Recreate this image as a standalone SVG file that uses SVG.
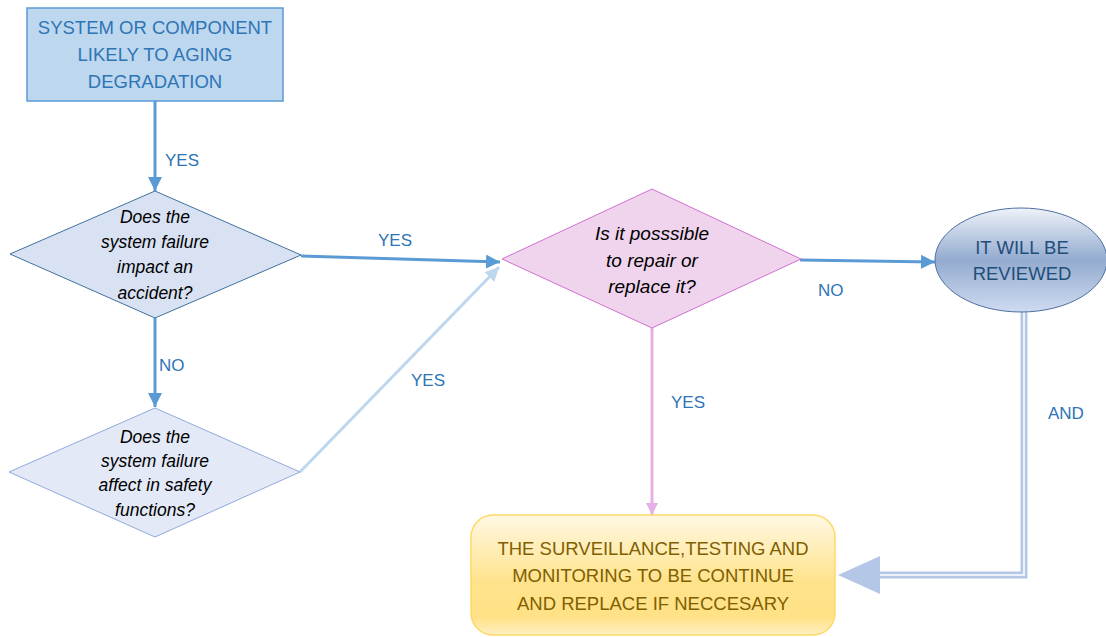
<svg xmlns="http://www.w3.org/2000/svg" width="1106" height="637" viewBox="0 0 1106 637">
<style>
.lbl{font-family:"Liberation Sans",Arial,sans-serif;font-size:17px;fill:#2E75B6}
.q{font-family:"Liberation Sans",Arial,sans-serif;font-style:italic;font-size:17.5px;fill:#000;text-anchor:middle}
.cap{font-family:"Liberation Sans",Arial,sans-serif;font-size:18.5px;text-anchor:middle}
.main{fill:none;stroke:#5B9BD5;stroke-width:3}
</style>
<defs>
<marker id="ah" markerUnits="userSpaceOnUse" viewBox="0 0 14 14" refX="14" refY="7" markerWidth="14" markerHeight="14" orient="auto">
<path d="M0,0 L14,7 L0,14 Z" fill="#5B9BD5"/>
</marker>
<marker id="ahl" markerUnits="userSpaceOnUse" viewBox="0 0 14 14" refX="14" refY="7" markerWidth="14" markerHeight="14" orient="auto">
<path d="M0,0 L14,7 L0,14 Z" fill="#BDD7EE"/>
</marker>
<marker id="ahp" markerUnits="userSpaceOnUse" viewBox="0 0 12 12" refX="12" refY="6" markerWidth="12" markerHeight="12" orient="auto">
<path d="M0,0 L12,6 L0,12 Z" fill="#E6B0E6"/>
</marker>
<linearGradient id="gEll" x1="0" y1="0" x2="0" y2="1">
<stop offset="0" stop-color="#EEF2FA"/>
<stop offset="0.5" stop-color="#93ABCF"/>
<stop offset="1" stop-color="#CFDBF0"/>
</linearGradient>
<linearGradient id="gBox" x1="0" y1="0" x2="0" y2="1">
<stop offset="0" stop-color="#FFF8E4"/>
<stop offset="0.55" stop-color="#FFE38C"/>
<stop offset="0.85" stop-color="#FFE186"/>
<stop offset="1" stop-color="#FFF0C4"/>
</linearGradient>
</defs>

<g id="connectors">
<path class="main" d="M155,101 V191" marker-end="url(#ah)"/>
<path class="main" d="M301,256 L500,262" marker-end="url(#ah)"/>
<path class="main" d="M155,318 V407" marker-end="url(#ah)"/>
<path fill="none" stroke="#BDD7EE" stroke-width="3" d="M300,472 L499,267" marker-end="url(#ahl)"/>
<path fill="none" stroke="#E6B0E6" stroke-width="3" d="M652,328 V515" marker-end="url(#ahp)"/>
<path class="main" d="M800,260 L935,262" marker-end="url(#ah)"/>
<path fill="none" stroke="#B4C7E7" stroke-width="7" d="M1024,312 V575 H878"/>
<path fill="none" stroke="#FFFFFF" stroke-width="1.5" d="M1024,312 V575 H878"/>
<polygon points="838,575 880,556 880,594" fill="#B4C7E7"/>
<text class="lbl" x="165" y="166">YES</text>
<text class="lbl" x="378" y="246">YES</text>
<text class="lbl" x="159" y="371">NO</text>
<text class="lbl" x="411" y="386">YES</text>
<text class="lbl" x="671" y="408">YES</text>
<text class="lbl" x="818" y="296">NO</text>
<text class="lbl" x="1048" y="419">AND</text>
</g>

<g id="start">
<rect x="27" y="8" width="256" height="93" fill="#BDD7EE" stroke="#5B9BD5" stroke-width="1.5"/>
<text class="cap" fill="#2E75B6" x="155" y="34">SYSTEM OR COMPONENT</text>
<text class="cap" fill="#2E75B6" x="155" y="61">LIKELY TO AGING</text>
<text class="cap" fill="#2E75B6" x="155" y="88">DEGRADATION</text>
</g>

<g id="q1">
<polygon points="155,191 301,255 155,318 10,254" fill="#D9E2F3" stroke="#41719C" stroke-width="1"/>
<text class="q" x="155" y="223">Does the</text>
<text class="q" x="155" y="248">system failure</text>
<text class="q" x="155" y="273">impact an</text>
<text class="q" x="155" y="299">accident?</text>
</g>

<g id="q2">
<polygon points="155,408 300,472 155,537 9,472" fill="#E3E9F6" stroke="#8FAADC" stroke-width="1"/>
<text class="q" x="155" y="443">Does the</text>
<text class="q" x="155" y="467">system failure</text>
<text class="q" x="155" y="491">affect in safety</text>
<text class="q" x="155" y="516">functions?</text>
</g>

<g id="q3">
<polygon points="652,189 801,259 652,328 502,259" fill="#F0D4EE" stroke="#D070D0" stroke-width="1"/>
<text class="q" x="652" y="240" style="font-size:19px">Is it posssible</text>
<text class="q" x="652" y="267" style="font-size:19px">to repair or</text>
<text class="q" x="652" y="293" style="font-size:19px">replace it?</text>
</g>

<g id="review">
<ellipse cx="1021" cy="260" rx="86" ry="52" fill="url(#gEll)" stroke="#4F6F9F" stroke-width="1"/>
<text class="cap" fill="#1F4E79" x="1022" y="254">IT WILL BE</text>
<text class="cap" fill="#1F4E79" x="1022" y="280">REVIEWED</text>
</g>

<g id="action">
<rect x="471" y="515" width="364" height="120" rx="22" ry="22" fill="url(#gBox)" stroke="#FFD966" stroke-width="1.5"/>
<text class="cap" fill="#7F6000" x="653" y="555">THE SURVEILLANCE,TESTING AND</text>
<text class="cap" fill="#7F6000" x="653" y="582">MONITORING TO BE CONTINUE</text>
<text class="cap" fill="#7F6000" x="653" y="610">AND REPLACE IF NECCESARY</text>
</g>
</svg>
